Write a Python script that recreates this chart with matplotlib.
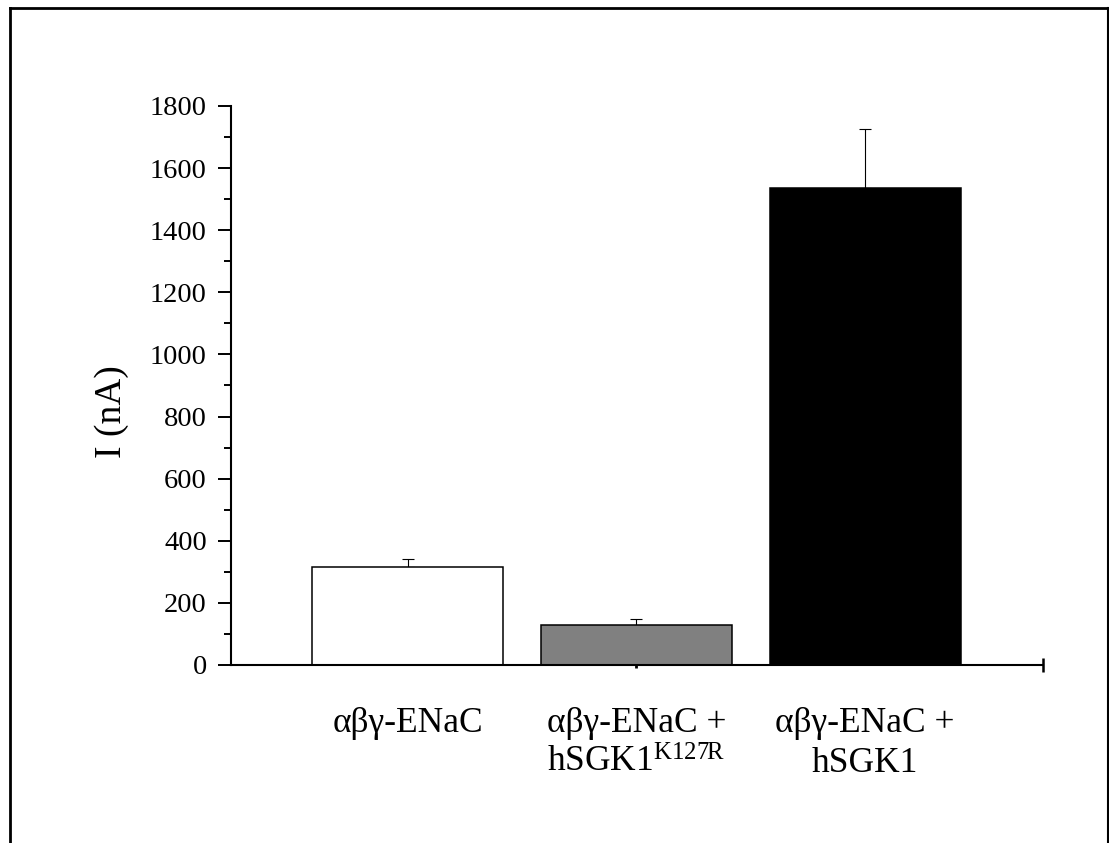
import matplotlib
matplotlib.use("Agg")
import matplotlib.pyplot as plt
from matplotlib.lines import Line2D
from matplotlib.ticker import MultipleLocator
import numpy as np

# data
groups = ["αβγ-ENaC",
          "αβγ-ENaC +\nhSGK1$^{\\mathregular{K127R}}$",
          "αβγ-ENaC +\nhSGK1"]
current = [315, 130, 1535]     # nA
sem = [25, 17, 192]
colors = ["white", "#808080", "black"]

plt.rcParams['font.family'] = ['Liberation Serif', 'DejaVu Serif']
plt.rcParams['mathtext.fontset'] = 'custom'
plt.rcParams['mathtext.rm'] = 'Liberation Serif'
plt.rcParams['mathtext.it'] = 'Liberation Serif:italic'

fig = plt.figure(figsize=(11.09, 8.43), dpi=100)
ax = fig.add_axes([0.2083, 0.2112, 0.7322, 0.6631])

x = np.arange(1, len(groups) + 1)
ax.bar(x, current, width=0.835, color=colors, edgecolor="black",
       linewidth=1.1, zorder=2)
ax.errorbar(x, current, yerr=[np.zeros(len(sem)), sem], fmt="none",
            ecolor="black", elinewidth=0.8, capsize=4, capthick=0.8, zorder=1)

ax.set_xlim(0.228, 3.778)
ax.set_ylim(0, 1800)
ax.yaxis.set_major_locator(MultipleLocator(200))
ax.yaxis.set_minor_locator(MultipleLocator(100))

ax.set_xticks(x)
ax.set_xticklabels(groups, fontsize=25.5, linespacing=1.3)
ax.xaxis.remove_overlapping_locs = False
ax.set_xticks([2], minor=True)
ax.tick_params(axis="x", which="major", length=0, pad=30)
ax.tick_params(axis="x", which="minor", length=4, width=2, direction="inout")
ax.tick_params(axis="y", which="major", length=9.4, width=1.4,
               labelsize=20.5, pad=8)
ax.tick_params(axis="y", which="minor", length=5, width=1.4)

for s in ["top", "right"]:
    ax.spines[s].set_visible(False)
for s in ["left", "bottom"]:
    ax.spines[s].set_linewidth(1.5)

# end tick on the x axis
ax.plot([1], [0], marker="|", markersize=10, markeredgewidth=1.8,
        color="black", transform=ax.transAxes, clip_on=False)

ax.set_ylabel("I (nA)", fontsize=27)
ax.yaxis.set_label_coords(-0.126, 0.454)

# outer frame (bottom edge is cut off in the original)
W, H = 1109, 843
fig.add_artist(Line2D([9.5 / W, 9.5 / W], [0, 1 - 8 / H], color="black",
                      linewidth=2, transform=fig.transFigure))
fig.add_artist(Line2D([9.5 / W, 1], [1 - 8 / H, 1 - 8 / H], color="black",
                      linewidth=2, transform=fig.transFigure))
fig.add_artist(Line2D([1107.5 / W, 1107.5 / W], [0, 1 - 8 / H], color="black",
                      linewidth=1.5, transform=fig.transFigure))

fig.savefig("out.png", dpi=100)
